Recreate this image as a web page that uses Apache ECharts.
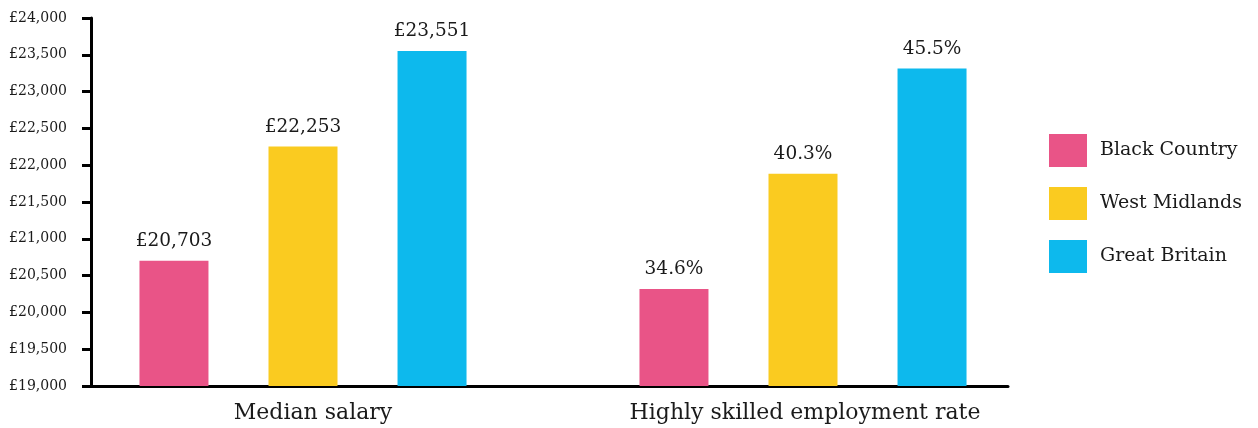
<!DOCTYPE html>
<html><head><meta charset="utf-8">
<script src="https://cdn.jsdelivr.net/npm/echarts@6/dist/echarts.min.js"></script>
<style>html,body{margin:0;padding:0;background:#fff}#c{width:1258px;height:428px}</style>
</head><body><div id="c"></div>
<script>
const categories = ['Median salary', 'Highly skilled employment rate'];
const seriesNames = ['Black Country', 'West Midlands', 'Great Britain'];
const medianSalary = [20703, 22253, 23551];
const skilledRate = [34.6, 40.3, 45.5];
const salaryMin = 19000, salaryMax = 24000, salaryStep = 500;
const rateMin = 29.8, rateMax = 48;

const colors = ['#E95487', '#FACB20', '#0DB9ED'];
const FONT = 'DejaVu Serif';
const TXT = '#1a1a1a';
const chart = echarts.init(document.getElementById('c'), null, {renderer: 'canvas'});
const gTop = 18, gH = 368;

const series = [];
seriesNames.forEach((n, i) => {
  series.push({
    type: 'bar', name: n, xAxisIndex: 1, yAxisIndex: 1,
    data: [medianSalary[i]], barWidth: 69, barGap: '87%',
    itemStyle: {color: colors[i]},
    label: {show: true, position: 'top', distance: 10, fontSize: 18.5, fontFamily: FONT, color: TXT,
      formatter: p => '£' + p.value.toLocaleString('en-GB')}
  });
});
seriesNames.forEach((n, i) => {
  series.push({
    type: 'bar', name: n, xAxisIndex: 2, yAxisIndex: 2,
    data: [skilledRate[i]], barWidth: 69, barGap: '87%',
    itemStyle: {color: colors[i]},
    label: {show: true, position: 'top', distance: 10, fontSize: 18.5, fontFamily: FONT, color: TXT,
      formatter: p => p.value.toFixed(1) + '%'}
  });
});

chart.setOption({
  animation: false,
  backgroundColor: '#fff',
  grid: [
    {left: 91, top: gTop, width: 917, height: gH},
    {left: 91, top: gTop, width: 424, height: gH},
    {left: 603, top: gTop, width: 400, height: gH}
  ],
  xAxis: [
    {gridIndex: 0, type: 'category', data: ['', ''], axisLine: {lineStyle: {color: '#000', width: 3}},
      axisTick: {show: false}, axisLabel: {show: false}},
    {gridIndex: 1, type: 'category', data: [categories[0]], axisLine: {show: false}, axisTick: {show: false},
      axisLabel: {fontSize: 22, fontFamily: FONT, color: TXT, margin: 16, padding: [0, 0, 0, 20]}},
    {gridIndex: 2, type: 'category', data: [categories[1]], axisLine: {show: false}, axisTick: {show: false},
      axisLabel: {fontSize: 22, fontFamily: FONT, color: TXT, margin: 16, padding: [0, 0, 0, 4]}}
  ],
  yAxis: [
    {gridIndex: 0, type: 'value', min: salaryMin, max: salaryMax, interval: salaryStep,
      axisLine: {show: true, lineStyle: {color: '#000', width: 3}},
      axisTick: {show: true, length: 9, lineStyle: {color: '#000', width: 3}},
      splitLine: {show: false},
      axisLabel: {fontSize: 14, fontFamily: FONT, color: TXT, margin: 24,
        formatter: v => '£' + v.toLocaleString('en-GB')}},
    {gridIndex: 1, type: 'value', min: salaryMin, max: salaryMax, show: false, splitLine: {show: false}},
    {gridIndex: 2, type: 'value', min: rateMin, max: rateMax, show: false, splitLine: {show: false}}
  ],
  legend: {
    orient: 'vertical', left: 1049, top: 134, padding: 0, itemWidth: 38, itemHeight: 33, itemGap: 20,
    icon: 'rect', data: seriesNames,
    textStyle: {fontSize: 19, fontFamily: FONT, color: TXT, padding: [0, 0, 0, 8]}
  },
  series: series
});
</script></body></html>
